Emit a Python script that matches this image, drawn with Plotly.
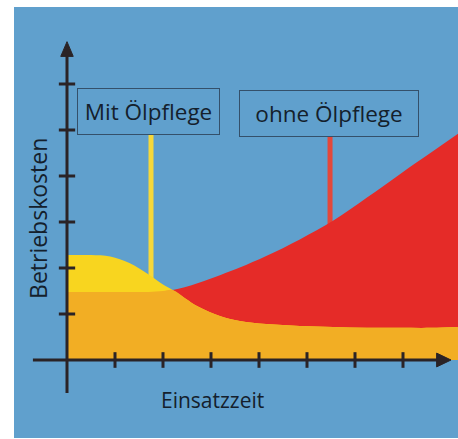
import plotly.graph_objects as go

# Einsatzzeit (x) and the two cost curves, in axis units (1 unit = 1 tick)
einsatzzeit = [0, 0.5, 0.9, 1.3, 1.7, 2.0, 2.2, 2.45, 2.75, 3.2, 3.6, 4.15, 4.85, 5.55, 6.25, 6.95, 7.6, 8.15]
mit_oelpflege = [2.28, 2.28, 2.25, 2.11, 1.86, 1.64, 1.52, 1.35, 1.15, 0.95, 0.85, 0.78, 0.74, 0.72, 0.70, 0.70, 0.70, 0.72]
ohne_oelpflege = [1.48, 1.48, 1.48, 1.48, 1.48, 1.50, 1.52, 1.58, 1.68, 1.85, 2.01, 2.26, 2.62, 3.03, 3.53, 4.05, 4.52, 4.92]

x_ticks = [1, 2, 3, 4, 5, 6, 7]
y_ticks = [1, 2, 3, 4, 5, 6]

# label boxes: text, anchor x, anchor y, pointer x
labels = ["Mit Ölpflege", "ohne Ölpflege"]
label_x = [1.70, 5.46]
label_y = [5.40, 5.36]
pointer_x = [1.75, 5.48]

BLUE = "#60a0cd"
YELLOW = "#f8d51f"
ORANGE = "#f2ae24"
RED = "#e52b28"
AXIS = "#2a2326"
TEXT = "#14202c"
BOX = "#34506a"
FONT = "Open Sans"

# common base: the lower of the two curves
basis = [min(a, b) for a, b in zip(mit_oelpflege, ohne_oelpflege)]

fig = go.Figure()
fig.add_trace(go.Scatter(x=einsatzzeit, y=ohne_oelpflege, mode="lines", fill="tozeroy",
                         fillcolor=RED, line=dict(color=RED, width=0, shape="spline"),
                         hoverinfo="skip", showlegend=False))
fig.add_trace(go.Scatter(x=einsatzzeit, y=mit_oelpflege, mode="lines", fill="tozeroy",
                         fillcolor=YELLOW, line=dict(color=YELLOW, width=0, shape="spline"),
                         hoverinfo="skip", showlegend=False))
fig.add_trace(go.Scatter(x=einsatzzeit, y=basis, mode="lines", fill="tozeroy",
                         fillcolor=ORANGE, line=dict(color=ORANGE, width=0, shape="spline"),
                         hoverinfo="skip", showlegend=False))

shapes = []
# pointer lines from the label boxes down into the areas (beneath the fills)
pointer_colors = ["#f6d83a", "#e4483a"]
box_bottom = [4.89, 4.85]
for px, top, col in zip(pointer_x, box_bottom, pointer_colors):
    shapes.append(dict(type="line", xref="x", yref="y", x0=px, x1=px, y0=top, y1=0,
                       line=dict(color=col, width=5), layer="below"))

# axis lines
shapes.append(dict(type="line", x0=0, x1=0, y0=-0.72, y1=6.65,
                   line=dict(color=AXIS, width=3), layer="above"))
shapes.append(dict(type="line", x0=-0.71, x1=7.72, y0=0, y1=0,
                   line=dict(color=AXIS, width=3), layer="above"))
# arrow heads
shapes.append(dict(type="path", path="M -0.13 6.60 L 0.13 6.60 L 0 6.92 Z",
                   fillcolor=AXIS, line=dict(color=AXIS, width=1), layer="above"))
shapes.append(dict(type="path", path="M 7.70 -0.15 L 7.70 0.15 L 8.0 0 Z",
                   fillcolor=AXIS, line=dict(color=AXIS, width=1), layer="above"))
# tick marks
for t in y_ticks:
    shapes.append(dict(type="line", x0=-0.17, x1=0.17, y0=t, y1=t,
                       line=dict(color=AXIS, width=3), layer="above"))
for t in x_ticks:
    shapes.append(dict(type="line", x0=t, x1=t, y0=-0.17, y1=0.17,
                       line=dict(color=AXIS, width=3), layer="above"))

annotations = []
box_w = [141, 178]
for text, lx, ly, w in zip(labels, label_x, label_y, box_w):
    annotations.append(dict(x=lx, y=ly, xref="x", yref="y", text=text, showarrow=False,
                            font=dict(family=FONT, size=22.5, color=TEXT),
                            bordercolor=BOX, borderwidth=1, borderpad=0,
                            width=w, height=45, align="center", valign="middle"))

annotations.append(dict(x=-0.60, y=3.07, xref="x", yref="y", text="Betriebskosten",
                        textangle=-90, showarrow=False,
                        font=dict(family=FONT, size=23, color=TEXT)))
annotations.append(dict(x=3.03, y=-0.87, xref="x", yref="y", text="Einsatzzeit",
                        showarrow=False, font=dict(family=FONT, size=21, color=TEXT)))

fig.update_layout(
    width=458, height=439,
    margin=dict(l=14, r=0, t=7, b=1),
    paper_bgcolor="white", plot_bgcolor=BLUE,
    xaxis=dict(range=[-1.1042, 8.1458], visible=False, fixedrange=True),
    yaxis=dict(range=[-1.6957, 7.6739], visible=False, fixedrange=True),
    shapes=shapes, annotations=annotations,
)

fig.write_html("out.html")
